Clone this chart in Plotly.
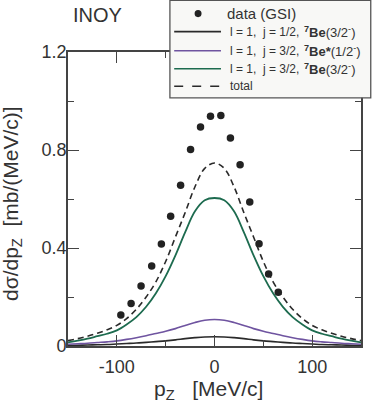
import plotly.graph_objects as go

# ---- data ----
pz_data = [-95.9, -85.4, -75.2, -64.3, -54.4, -44.9, -34.7, -24.5, -14.3, -4.1,
           6.5, 16.3, 26.2, 36.1, 45.6, 55.4, 65.3]
sig_data = [0.127, 0.173, 0.245, 0.327, 0.416, 0.530, 0.656, 0.802, 0.894, 0.938,
            0.941, 0.849, 0.740, 0.588, 0.417, 0.294, 0.219]

pz_grid = [-150, -140, -130, -120, -110, -100, -90, -80, -70, -60, -50, -40, -30, -20, -10,
           0, 10, 20, 30, 40, 50, 60, 70, 80, 90, 100, 110, 120, 130, 140, 150]

sig_j12_gs = [0.002, 0.003, 0.004, 0.005, 0.006, 0.008, 0.010, 0.012, 0.015, 0.018, 0.021,
              0.025, 0.030, 0.034, 0.037, 0.038, 0.037, 0.034, 0.030, 0.025, 0.021, 0.018,
              0.015, 0.012, 0.010, 0.008, 0.006, 0.005, 0.004, 0.003, 0.002]
sig_j32_exc = [0.007, 0.009, 0.011, 0.014, 0.017, 0.021, 0.027, 0.034, 0.042, 0.051, 0.060,
               0.071, 0.084, 0.096, 0.105, 0.108, 0.105, 0.096, 0.084, 0.071, 0.060, 0.051,
               0.042, 0.034, 0.027, 0.021, 0.017, 0.014, 0.011, 0.009, 0.007]
sig_j32_gs = [0.015, 0.022, 0.030, 0.040, 0.050, 0.064, 0.088, 0.118, 0.160, 0.215, 0.285,
              0.370, 0.465, 0.550, 0.595, 0.604, 0.595, 0.550, 0.465, 0.370, 0.285, 0.215,
              0.160, 0.118, 0.088, 0.064, 0.050, 0.040, 0.030, 0.022, 0.015]
sig_total = [0.022, 0.030, 0.040, 0.052, 0.066, 0.084, 0.112, 0.150, 0.200, 0.262, 0.345,
             0.445, 0.545, 0.650, 0.725, 0.747, 0.725, 0.650, 0.545, 0.445, 0.345, 0.262,
             0.200, 0.150, 0.112, 0.084, 0.066, 0.052, 0.040, 0.030, 0.022]

x_ticks = [-100, 0, 100]
y_ticks = [0, 0.4, 0.8, 1.2]
y_ticklabels = ["0", "0.4", "0.8", "1.2"]

FONT = "Liberation Sans, Arial, Helvetica, sans-serif"
INK = "#333333"
AX = "#444444"
GREEN = "#1d6b4f"
PURPLE = "#6f54a0"
BLACK = "#2a2a2a"

fig = go.Figure()
fig.add_trace(go.Scatter(x=pz_grid, y=sig_j12_gs, mode="lines", line=dict(color=BLACK, width=1.6, shape="spline"), showlegend=False))
fig.add_trace(go.Scatter(x=pz_grid, y=sig_j32_exc, mode="lines", line=dict(color=PURPLE, width=1.6, shape="spline"), showlegend=False))
fig.add_trace(go.Scatter(x=pz_grid, y=sig_j32_gs, mode="lines", line=dict(color=GREEN, width=1.8, shape="spline"), showlegend=False))
fig.add_trace(go.Scatter(x=pz_grid, y=sig_total, mode="lines", line=dict(color=BLACK, width=1.6, dash="6px,4px", shape="spline"), showlegend=False))
fig.add_trace(go.Scatter(x=pz_data, y=sig_data, mode="markers", marker=dict(color="#222222", size=7.5), showlegend=False))

# plot area in px
L, R, T, B = 68.3, 362.7, 52.3, 345.7
W, H = R - L, B - T
def px(xp):
    return (xp - L) / W
def py(yp):
    return (B - yp) / H

fig.update_layout(
    width=374, height=402,
    margin=dict(l=L, r=374 - R, t=T, b=402 - B, pad=0),
    paper_bgcolor="white", plot_bgcolor="white",
    font=dict(family=FONT, color=INK, size=18),
    showlegend=False,
)
fig.update_xaxes(range=[-150, 150], tickmode="array", tickvals=x_ticks, ticktext=[str(v) for v in x_ticks],
                 ticks="inside", ticklen=11, tickwidth=1.3, tickcolor=AX,
                 showline=True, linecolor=AX, linewidth=1.6, mirror="allticks",
                 showgrid=False, zeroline=False, tickfont=dict(size=18, color=INK),
                 ticklabelstandoff=4,
                 minor=dict(ticks="inside", ticklen=6, tickwidth=1.3, tickcolor=AX, dtick=50, tick0=0, showgrid=False))
fig.update_yaxes(range=[0, 1.2], tickmode="array", tickvals=y_ticks, ticktext=y_ticklabels,
                 ticks="inside", ticklen=11, tickwidth=1.3, tickcolor=AX,
                 showline=True, linecolor=AX, linewidth=1.6, mirror="allticks",
                 showgrid=False, zeroline=False, tickfont=dict(size=18, color=INK),
                 ticklabelstandoff=-4,
                 minor=dict(ticks="inside", ticklen=6, tickwidth=1.3, tickcolor=AX, dtick=0.2, tick0=0, showgrid=False))

shapes = []
annotations = []
# legend box
shapes.append(dict(type="rect", xref="paper", yref="paper", x0=px(170.7), x1=px(372.5), y0=py(98), y1=py(0.8),
                   fillcolor="#f8f8f6", line=dict(color="#555555", width=1.3), layer="above"))
# data marker in legend
shapes.append(dict(type="circle", xref="paper", yref="paper", x0=px(195.5), x1=px(202.5), y0=py(17.5), y1=py(10.5),
                   fillcolor="#222222", line=dict(width=0), layer="above"))
annotations.append(dict(xref="paper", yref="paper", x=px(226), y=py(14), xanchor="left", yanchor="middle",
                        text="data (GSI)", showarrow=False, font=dict(size=15, color=INK, family=FONT)))
rows = [
    (32, BLACK, "solid", "l = 1,\u00a0 j = 1/2,", "<b><sup>7</sup>Be</b>(3/2<sup>-</sup>)"),
    (51, PURPLE, "solid", "l = 1,\u00a0 j = 3/2,", "<b><sup>7</sup>Be*</b>(1/2<sup>-</sup>)"),
    (69, GREEN, "solid", "l = 1,\u00a0 j = 3/2,", "<b><sup>7</sup>Be</b>(3/2<sup>-</sup>)"),
    (86.5, BLACK, "dash", "total", None),
]
for yy, col, dash, t1, t2 in rows:
    shapes.append(dict(type="line", xref="paper", yref="paper", x0=px(175), x1=px(222), y0=py(yy), y1=py(yy),
                       line=dict(color=col, width=1.6, dash=dash), layer="above"))
    annotations.append(dict(xref="paper", yref="paper", x=px(229.5), y=py(yy), xanchor="left", yanchor="middle",
                            text=t1, showarrow=False, font=dict(size=12, color=INK, family=FONT)))
    if t2:
        annotations.append(dict(xref="paper", yref="paper", x=px(303), y=py(yy), xanchor="left", yanchor="middle",
                                text=t2, showarrow=False, font=dict(size=13, color=INK, family=FONT)))

# title and axis titles
annotations.append(dict(xref="paper", yref="paper", x=px(71.5), y=py(15), xanchor="left", yanchor="middle",
                        text="INOY", showarrow=False, font=dict(size=20, color=INK, family=FONT)))
annotations.append(dict(xref="paper", yref="paper", x=px(209), y=py(390), xanchor="center", yanchor="middle",
                        text="p<sub>Z</sub>\u00a0\u00a0 [MeV/c]", showarrow=False, borderpad=0,
                        font=dict(size=21, color=INK, family=FONT)))
annotations.append(dict(xref="paper", yref="paper", x=px(12), y=py(203), xanchor="center", yanchor="middle",
                        textangle=-90, text="d\u03c3/dp<sub>Z</sub>\u00a0 [mb/(MeV/c)]", showarrow=False,
                        font=dict(size=21, color=INK, family=FONT)))

fig.update_layout(shapes=shapes, annotations=annotations)
fig.write_html("out.html", config={"displayModeBar": False},
               post_script="document.body.style.margin='0';document.body.style.padding='0';")
